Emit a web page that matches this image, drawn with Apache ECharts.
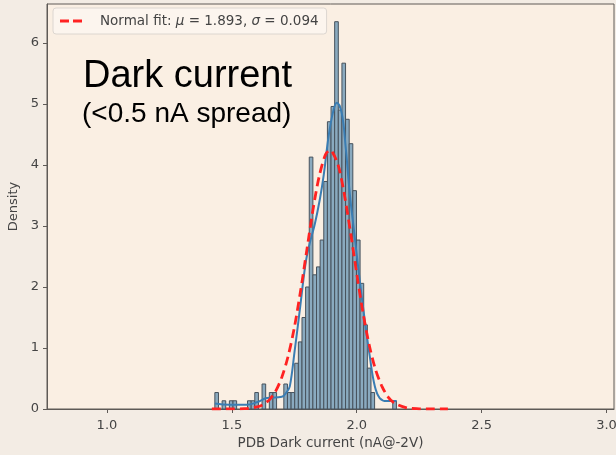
<!DOCTYPE html>
<html>
<head>
<meta charset="utf-8">
<script src="https://cdn.jsdelivr.net/npm/echarts@6/dist/echarts.min.js"></script>
<style>
  html, body { margin: 0; padding: 0; background: #f3ece4; }
  #chart { width: 616px; height: 455px; }
</style>
</head>
<body>
<div id="chart"></div>
<script>
// histogram: 50 bins, density
const binStart = 1.432;
const binWidth = 0.014536;
const density = [
  0.27, 0, 0.135, 0, 0.135, 0.135, 0, 0, 0, 0.135,
  0.135, 0.27, 0, 0.41, 0, 0.27, 0.27, 0, 0, 0.41,
  0.27, 0.27, 0.75, 1.1, 1.5, 2.0, 4.13, 2.2, 2.33, 2.77,
  3.73, 4.71, 4.96, 6.35, 4.9, 5.67, 4.75, 4.35, 3.58, 2.77,
  2.06, 1.38, 0.67, 0.27, 0, 0, 0, 0, 0, 0.135
];

// KDE curve (blue)
const kdeX = [1.432, 1.49, 1.56, 1.60, 1.64, 1.70, 1.72, 1.732, 1.752, 1.772, 1.796, 1.812, 1.832,
  1.852, 1.868, 1.888, 1.907, 1.92, 1.94, 1.956, 1.972, 1.992, 2.012, 2.032, 2.052, 2.072, 2.092, 2.12, 2.159];
const kdeY = [0.09, 0.07, 0.07, 0.11, 0.18, 0.20, 0.28, 0.37, 0.97, 1.62, 2.41, 2.72, 3.03,
  3.43, 3.84, 4.49, 4.90, 5.02, 4.85, 4.28, 3.54, 2.82, 2.11, 1.46, 0.87, 0.38, 0.18, 0.13, 0.13];

// normal fit curve (red dashed)
const fitX = [1.42, 1.50, 1.55, 1.60, 1.625, 1.65, 1.675, 1.70, 1.725, 1.75, 1.775, 1.80, 1.825, 1.85,
  1.875, 1.893, 1.90, 1.925, 1.95, 1.975, 2.00, 2.025, 2.05, 2.075, 2.10, 2.125, 2.15, 2.20, 2.25, 2.30, 2.365];
const fitY = [0, 0.001, 0.005, 0.033, 0.073, 0.15, 0.29, 0.52, 0.86, 1.33, 1.93, 2.60, 3.27, 3.82,
  4.17, 4.24, 4.23, 4.01, 3.53, 2.90, 2.22, 1.58, 1.05, 0.65, 0.38, 0.20, 0.10, 0.02, 0.003, 0, 0];

const xTicks = [1.0, 1.5, 2.0, 2.5, 3.0];
const yTicks = [0, 1, 2, 3, 4, 5, 6];
const fitName = 'Normal fit: μ = 1.893, σ = 0.094';

const histData = density.map((d, i) => [binStart + i * binWidth, binStart + (i + 1) * binWidth, d]);

const chart = echarts.init(document.getElementById('chart'));
chart.setOption({
  backgroundColor: '#f3ece4',
  animation: false,
  grid: {
    left: 47, right: 2, top: 4, bottom: 46,
    outerBoundsMode: 'none',
    show: true, backgroundColor: '#faefe3', borderColor: '#5e5a56', borderWidth: 1
  },
  legend: {
    data: [{ name: fitName, icon: 'path://M0,0h9v3h-9z M13,0h9v3h-9z' }],
    left: 53, top: 8,
    padding: [6, 8, 6, 7],
    itemWidth: 24, itemHeight: 3,
    backgroundColor: 'rgba(252,246,240,0.8)',
    borderColor: '#dcd6d0', borderWidth: 1, borderRadius: 3,
    itemStyle: { color: '#ff2222' },
    lineStyle: { opacity: 0 },
    formatter: () => 'Normal fit: {i|μ} = 1.893, {i|σ} = 0.094',
    textStyle: {
      fontFamily: 'DejaVu Sans', fontSize: 13.5, color: '#444',
      padding: [0, 0, 0, 12],
      rich: { i: { fontFamily: 'DejaVu Sans', fontStyle: 'italic', fontSize: 13.5, color: '#444' } }
    }
  },
  xAxis: {
    type: 'value', min: 0.76, max: 3.03,
    name: 'PDB Dark current (nA@-2V)', nameLocation: 'middle', nameGap: 25,
    nameTextStyle: { fontFamily: 'DejaVu Sans', fontSize: 13.5, color: '#444' },
    axisLine: { show: true, lineStyle: { color: '#5e5a56' } },
    axisTick: { show: true, length: 4, customValues: xTicks, lineStyle: { color: '#5e5a56' } },
    axisLabel: {
      customValues: xTicks, margin: 10,
      fontFamily: 'DejaVu Sans', fontSize: 13, color: '#444',
      formatter: v => v.toFixed(1)
    },
    splitLine: { show: false }
  },
  yAxis: {
    type: 'value', min: 0, max: 6.64,
    name: 'Density', nameLocation: 'middle', nameGap: 27,
    nameTextStyle: { fontFamily: 'DejaVu Sans', fontSize: 13, color: '#444' },
    axisLine: { show: true, lineStyle: { color: '#5e5a56' } },
    axisTick: { show: true, length: 4, customValues: yTicks, lineStyle: { color: '#5e5a56' } },
    axisLabel: {
      customValues: yTicks, margin: 8,
      fontFamily: 'DejaVu Sans', fontSize: 13, color: '#444'
    },
    splitLine: { show: false }
  },
  graphic: [
    {
      type: 'text', left: 83, top: 58,
      style: { text: 'Dark current', fontFamily: 'Liberation Sans', fontSize: 38, fill: '#000' }
    },
    {
      type: 'text', left: 82, top: 100,
      style: { text: '(<0.5 nA spread)', fontFamily: 'Liberation Sans', fontSize: 28, fill: '#000' }
    }
  ],
  series: [
    {
      type: 'custom',
      name: 'hist',
      encode: { x: [0, 1], y: 2 },
      data: histData,
      z: 2,
      renderItem: (params, api) => {
        const h = api.value(2);
        if (!h) return null;
        const p0 = api.coord([api.value(0), h]);
        const p1 = api.coord([api.value(1), 0]);
        return {
          type: 'rect',
          shape: { x: p0[0], y: p0[1], width: p1[0] - p0[0], height: p1[1] - p0[1] },
          style: { fill: '#8aaabf', stroke: '#47525c', lineWidth: 1 }
        };
      }
    },
    {
      type: 'line',
      name: 'kde',
      data: kdeX.map((x, i) => [x, kdeY[i]]),
      smooth: 0.4,
      showSymbol: false, symbol: 'none',
      z: 3,
      lineStyle: { color: '#3a7db3', width: 2 }
    },
    {
      type: 'line',
      name: fitName,
      data: fitX.map((x, i) => [x, fitY[i]]),
      smooth: 0.3,
      showSymbol: false, symbol: 'none',
      z: 4,
      itemStyle: { color: '#ff2222' },
      lineStyle: { color: '#ff2222', width: 2.8, type: [9, 5] }
    }
  ]
});
</script>
</body>
</html>
